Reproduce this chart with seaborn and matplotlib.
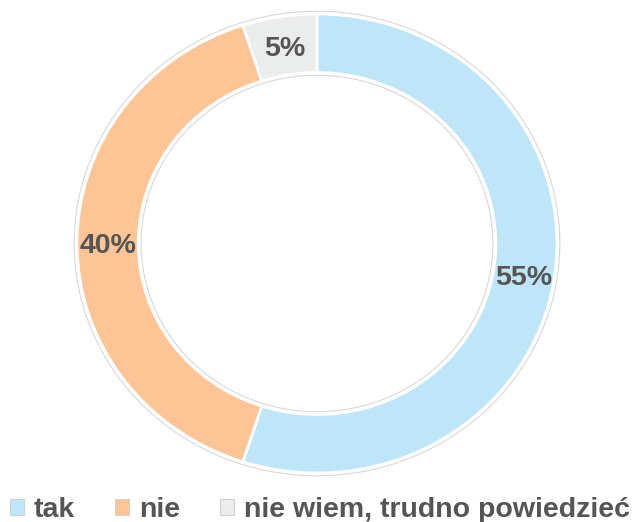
import matplotlib
matplotlib.use("Agg")
import matplotlib.pyplot as plt
import seaborn as sns
from matplotlib.patches import Patch, Ellipse

categories = ["tak", "nie", "nie wiem, trudno powiedzieć"]
values = [55, 40, 5]
colors = ["#bfe6f8", "#fdc596", "#ebecec"]

sns.set_theme(style="white")
plt.rcParams["font.family"] = ["Liberation Sans", "DejaVu Sans"]

W, H = 635, 522
fig = plt.figure(figsize=(W / 100, H / 100), dpi=100)
cx, cy = 317, 243.5
rx, ry = 240, 229.5
ax = fig.add_axes([(cx - rx) / W, (H - cy - ry) / H, 2 * rx / W, 2 * ry / H])

wedges, texts, autotexts = ax.pie(
    values, colors=colors, startangle=90, counterclock=False,
    radius=1.0, pctdistance=0.87,
    autopct=lambda p: f"{p:.0f}%",
    wedgeprops=dict(width=0.255, edgecolor="white", linewidth=2),
    textprops=dict(color="#555555", fontsize=20.5, fontweight="bold"),
)
for t in autotexts:
    t.set_va("center_baseline")

# faint outline around ring
for r in (1.012, 0.733):
    ax.add_patch(Ellipse((0, 0), 2 * r, 2 * r, fill=False, edgecolor="#d8d8d8",
                         linewidth=0.8, zorder=0, clip_on=False))

ax.set_aspect("auto")
ax.set_xlim(-1, 1)
ax.set_ylim(-1, 1)
ax.axis("off")

handles = [Patch(facecolor=c, edgecolor="#d0d0d0", linewidth=0.8) for c in colors]
fig.legend(handles, categories, loc="center", bbox_to_anchor=(320 / W, 12 / H),
           ncol=3, frameon=False, handlelength=0.5, handleheight=0.5,
           handletextpad=0.35, columnspacing=1.4, borderpad=0, borderaxespad=0,
           prop=dict(weight="bold", size=20.5), labelcolor="#555555")

fig.savefig("out.png", dpi=100)
